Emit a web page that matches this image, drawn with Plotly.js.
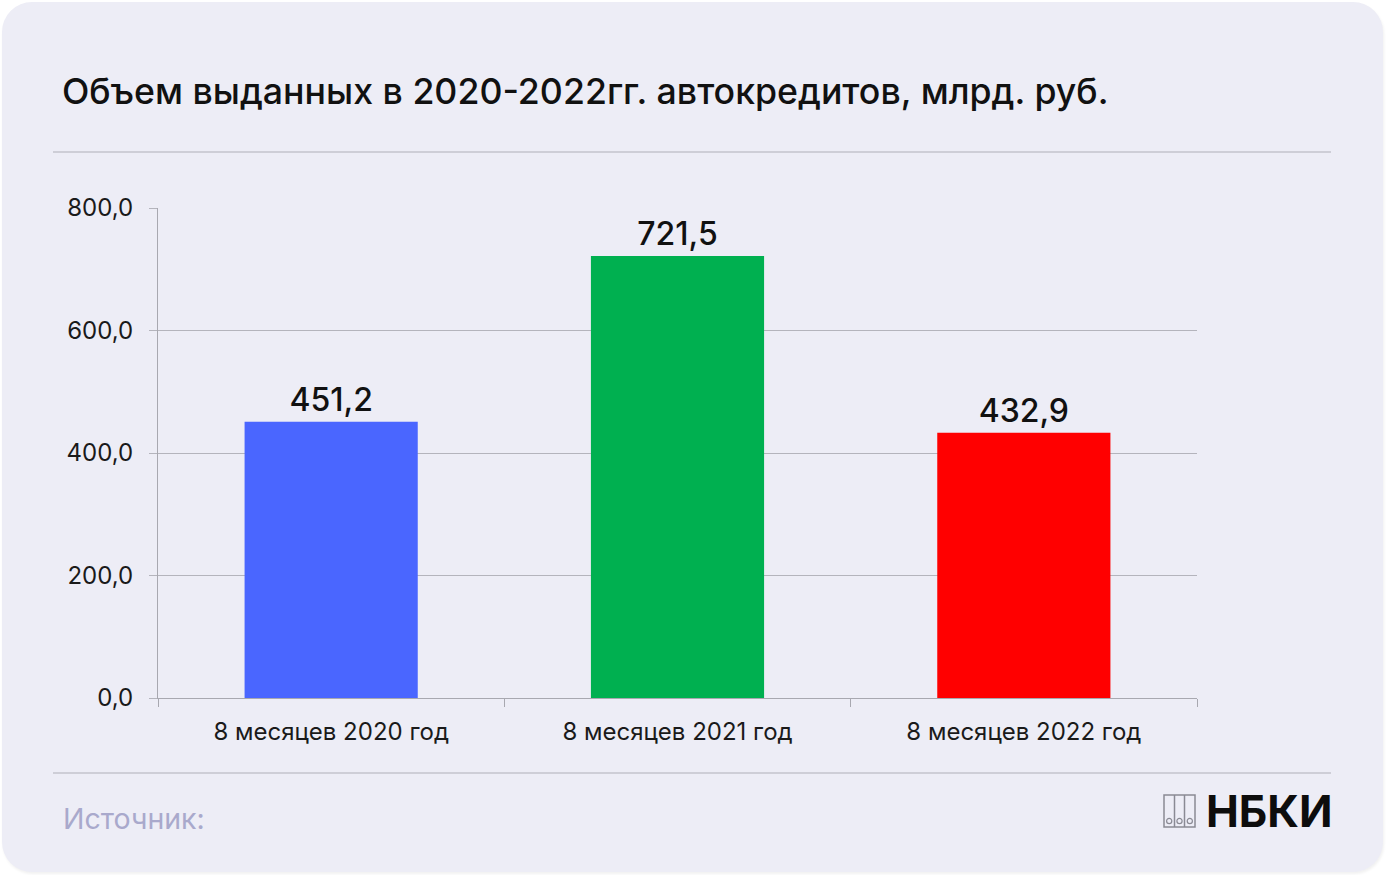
<!DOCTYPE html>
<html>
<head>
<meta charset="utf-8">
<script src="https://cdn.plot.ly/plotly-3.0.1.min.js"></script>
<style>
  html, body { margin:0; padding:0; background:#ffffff; }
  #card { position:absolute; left:2px; top:2px; width:1381px; height:870px; background:#EDEDF6; border-radius:30px; box-shadow: 1px 2px 3px rgba(0,0,0,0.06); }
  #chart { position:absolute; left:0; top:0; width:1392px; height:875px; }
</style>
</head>
<body>
<div id="card"></div>
<div id="chart"></div>
<script>
const categories = ['8 месяцев 2020 год', '8 месяцев 2021 год', '8 месяцев 2022 год'];
const values = [451.2, 721.5, 432.9];
const barColors = ['#4A66FF', '#00B050', '#FF0000'];
const yTicks = [0, 200, 400, 600, 800];
const titleText = 'Объем выданных в 2020-2022гг. автокредитов, млрд. руб.';
const sourceText = 'Источник:';
const logoText = 'НБКИ';

const W = 1392, H = 875;
const L = 158, R = 1197, T = 208, B = 698;
const pw = R - L, ph = B - T;
const px = x => (x - L) / pw;
const py = y => (B - y) / ph;

const FONT = 'Inter, "Noto Sans", sans-serif';

const trace = {
  type: 'bar',
  x: categories,
  y: values,
  marker: { color: barColors, line: { width: 0 } },
  text: values.map(v => v.toFixed(1).replace('.', ',')),
  textposition: 'outside',
  textfont: { family: FONT, size: 32, color: '#111111', weight: 500 },
  cliponaxis: false,
  hoverinfo: 'skip'
};

const iconColor = '#8a8a94';
const shapes = [
  { type: 'line', xref: 'paper', yref: 'paper', x0: px(53), x1: px(1331), y0: py(152), y1: py(152), line: { color: '#C3C3CD', width: 1.5 } },
  { type: 'line', xref: 'paper', yref: 'paper', x0: px(53), x1: px(1331), y0: py(773), y1: py(773), line: { color: '#C3C3CD', width: 1.5 } },
  // logo icon
  { type: 'rect', xref: 'paper', yref: 'paper', x0: px(1164), x1: px(1195), y0: py(795), y1: py(827), line: { color: iconColor, width: 1.5 } },
  { type: 'line', xref: 'paper', yref: 'paper', x0: px(1174.5), x1: px(1174.5), y0: py(795), y1: py(827), line: { color: iconColor, width: 1.5 } },
  { type: 'line', xref: 'paper', yref: 'paper', x0: px(1184.5), x1: px(1184.5), y0: py(795), y1: py(827), line: { color: iconColor, width: 1.5 } },
];
[1169.2, 1179.5, 1189.8].forEach(cx => {
  shapes.push({ type: 'circle', xref: 'paper', yref: 'paper', x0: px(cx - 2.6), x1: px(cx + 2.6), y0: py(818.4), y1: py(823.6), line: { color: iconColor, width: 1.2 } });
});

const layout = {
  width: W, height: H,
  paper_bgcolor: 'rgba(0,0,0,0)',
  plot_bgcolor: 'rgba(0,0,0,0)',
  separators: ', ',
  margin: { l: L, r: W - R, t: T, b: H - B, pad: 0 },
  showlegend: false,
  bargap: 0.5,
  font: { family: FONT, color: '#111111' },
  title: {
    text: titleText,
    xref: 'container', yref: 'container',
    x: 62 / W, xanchor: 'left',
    y: 1 - 92 / H, yanchor: 'middle',
    font: { family: FONT, size: 35.7, color: '#111111', weight: 500 }
  },
  xaxis: {
    type: 'category',
    showgrid: false,
    showline: true, linecolor: '#A8A8B0', linewidth: 1,
    ticks: 'outside', tickson: 'boundaries', ticklen: 8, tickcolor: '#A8A8B0', tickwidth: 1,
    tickfont: { family: FONT, size: 24, color: '#1a1a1a' },
    ticklabelstandoff: 12,
    fixedrange: true
  },
  yaxis: {
    range: [0, 800],
    tickvals: yTicks,
    tickformat: '.1f',
    showgrid: true, gridcolor: '#B4B4BC', gridwidth: 1,
    zeroline: false,
    showline: true, linecolor: '#A8A8B0', linewidth: 1,
    ticks: 'outside', ticklen: 8, tickcolor: '#B4B4BC', tickwidth: 1,
    tickfont: { family: FONT, size: 24, color: '#1a1a1a' },
    ticklabelstandoff: 11,
    fixedrange: true
  },
  shapes: shapes,
  annotations: [
    { text: sourceText, xref: 'paper', yref: 'paper', x: px(61), y: py(818), xanchor: 'left', yanchor: 'middle', showarrow: false,
      font: { family: FONT, size: 28.5, color: '#A9A9CC' } },
    { text: logoText, xref: 'paper', yref: 'paper', x: px(1335), y: py(811), xanchor: 'right', yanchor: 'middle', showarrow: false,
      font: { family: FONT, size: 44, color: '#0d0d0d', weight: 700 } }
  ]
};

Plotly.newPlot('chart', [trace], layout, { displayModeBar: false, staticPlot: true });
</script>
</body>
</html>
